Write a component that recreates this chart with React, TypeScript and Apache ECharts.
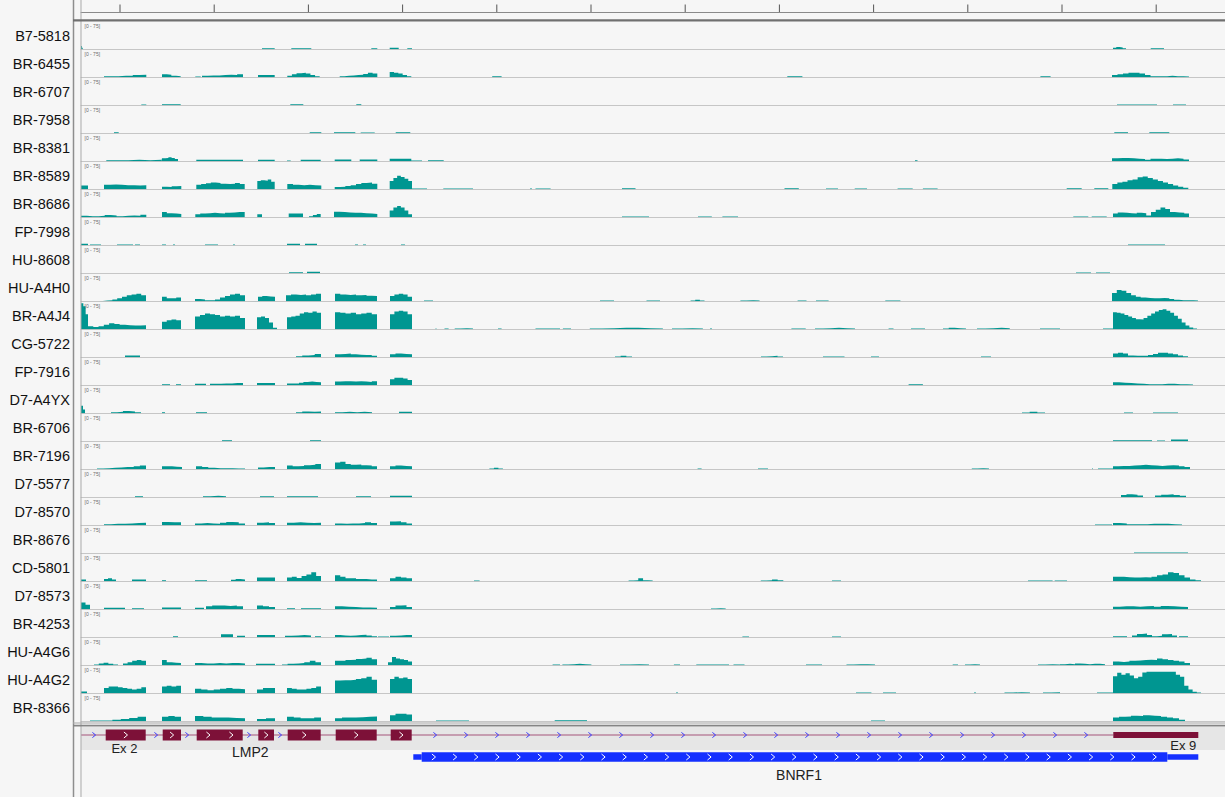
import React, { useEffect, useRef } from 'react';
import * as echarts from 'echarts';

// ---------------- data ----------------
const sampleNames = ['B7-5818','BR-6455','BR-6707','BR-7958','BR-8381','BR-8589','BR-8686','FP-7998','HU-8608','HU-A4H0','BR-A4J4','CG-5722','FP-7916','D7-A4YX','BR-6706','BR-7196','D7-5577','D7-8570','BR-8676','CD-5801','D7-8573','BR-4253','HU-A4G6','HU-A4G2','BR-8366'];
const rangeLabel = '[0 - 75]';
const dataMax = 75;
const regionStart = 810;
const regionEnd = 12250;
const rulerTicks = [1200, 2142, 3084, 4026, 4968, 5910, 6852, 7794, 8736, 9678, 10620, 11562];

// coverage segments: [start, end, depth values spread evenly over the segment...]
const covB7_5818 = [[810,827,9,4],[2620,2747,3],[2913,3113,3],[3713,3773,3],[3897,3987,4],[4073,4120,3],[11130,11260,4,6,5,3],[11507,11640,3]];
const covBR_6455 = [[1040,1260,3,3,4],[1260,1463,4,6,7],[1620,1807,8,7,4,3],[1953,2007,2],[2020,2430,4,5,5,6,7,6,8],[2580,2747,6],[2873,3197,4,8,11,12,10,6,3],[3397,3773,3,4,5,6,7,9,12,10],[3897,4113,14,12,10,6,3],[4922,5016,3],[7873,8024,3],[10404,10506,3],[11120,11890,6,8,10,12,12,10,6,3,3,3,4,3,3,2]];
const covBR_6707 = [[1413,1463,2],[1620,1807,3],[2903,3033,3],[3563,3613,3],[11170,11570,2],[11730,11860,2]];
const covBR_7958 = [[1140,1187,3],[3097,3213,3],[3340,3553,3],[3607,3747,2],[3957,4103,3],[11143,11280,3],[11493,11693,3]];
const covBR_8381 = [[1063,1613,3,3,4,3,4],[1620,1780,8,9,11,9,6],[1963,2430,4],[2580,2747,4],[2870,2907,2],[3007,3207,4],[3347,3513,5],[3597,3773,5],[3897,4113,7],[4113,4220,2],[4280,4437,3],[9150,9175,3],[11120,11890,8,9,9,8,7,6,4,7,7,6,7,8,7,5]];
const covBR_8589 = [[810,880,10],[1040,1463,12,13,12,11,11,10,11],[1620,1813,7,6,8,9],[1963,2447,12,14,16,18,17,15,14,15,17,14],[2447,2573,1],[2573,2747,22,24,23,26,20],[2747,2863,1],[2873,3213,14,12,11,12,11,10],[3347,3773,6,7,9,11,14,17,18,15],[3897,4120,22,30,36,33,28,22],[4120,4270,2],[4433,4730,2],[5300,5320,2],[5355,5506,2],[6220,6355,3],[7845,7988,3],[8260,8380,2],[8547,8670,2],[8976,9127,2],[9229,9376,2],[10667,10817,3],[10943,11083,3],[11123,11883,14,18,20,24,26,32,34,30,26,22,18,14,10,7,4]];
const covBR_8686 = [[810,1463,4,3,3,4,6,5,3,4,5,4,7],[1620,1813,14,11,10,9],[1953,2447,8,10,11,12,11,10,12,13,14,14],[2573,2620,8],[2887,3030,10],[3090,3207,3,6,9],[3340,3773,15,14,13,12,12,11,10,9],[3897,4120,18,26,30,26,18,8],[6220,6490,2],[6980,7118,2],[7224,7380,2],[10733,10883,2],[10917,11067,2],[11130,11890,10,13,12,11,10,12,11,5,14,20,26,22,14,13,12,10]];
const covFP_7998 = [[810,880,4],[900,1010,2],[1170,1330,2],[1350,1400,2],[1620,1660,2],[1730,1750,2],[2050,2180,2],[2330,2350,2],[2870,3000,4],[3050,3170,4],[3550,3580,2],[3630,3660,2],[4010,4050,2],[11280,11650,2]];
const covHU_8608 = [[2890,3030,3],[3070,3200,4],[10760,10910,2],[10960,11100,2]];
const covHU_A4H0 = [[980,1460,1,2,3,5,8,12,16,18,20,16],[1620,1810,12,8,8,10],[1950,2450,6,5,3,3,5,10,14,18,20,16],[2470,2580,1],[2580,2750,12,14,13,12],[2860,3210,16,18,17,18,16,18,20],[3350,3770,20,18,17,18,16,17,15,14],[3900,4120,14,18,20,18,12],[4240,4330,2],[6000,6140,2],[6465,6600,2],[6906,7045,2,4,2],[7404,7596,2,3,2],[7976,8065,2],[8160,8286,2],[8853,9004,2],[11120,11980,22,30,28,22,16,12,10,9,8,8,9,8,6,4,3,3,3,2]];
const covBR_A4J4 = [[810,880,70,62,40],[880,1460,8,6,8,12,16,14,12,11,10,10,11],[1620,1810,20,24,26,24],[1950,2450,34,38,42,40,38,34,36,34,36,30],[2570,2770,32,34,30,18,4],[2870,3210,32,34,36,42,46,44,48,44],[3350,3770,46,44,42,44,40,42,44,40],[3900,4120,40,48,50,48,40],[4355,4365,2],[4445,4486,2],[4547,4730,2,3,2],[4980,5016,2],[5355,5600,2],[5629,5710,2],[5898,6629,2,3,4,4,3,2],[6720,7029,2,3,2],[7100,7120,2],[7914,8057,2],[8150,8550,2,3,4,3,2],[8886,8935,2],[9110,9250,2],[9430,9660,2,4,3,2],[9770,10098,2,3,4,3],[10400,10600,2],[11030,11130,2],[11130,11970,46,44,42,38,34,30,27,26,30,36,42,48,52,54,50,44,36,28,18,10,5,2]];
const covCG_5722 = [[1250,1400,5],[2960,3210,3,5,6,9],[3350,3770,8,9,10,8,7,6,6,4],[3900,4120,8,10,9,8],[6150,6320,2,4,2],[7610,7830,2,3,4,2],[8230,8445,2],[8710,8790,2],[9810,9910,2],[11130,11880,10,12,10,5,4,4,4,6,9,12,12,10,8,5,3]];
const covFP_7916 = [[1620,1700,3],[1760,1810,3],[1950,2060,4],[2100,2430,4,4,5,5,6,6],[2570,2750,6],[2870,2990,5],[2990,3210,7,9,10,9,8],[3350,3770,10,11,11,10,11,10,9,11],[3900,4120,16,20,20,18,14],[9086,9229,3],[11130,11930,8,7,6,5,4,3,3,3,4,4,3,3,2]];
const covD7_A4YX = [[810,850,20,10],[1110,1410,3,4,6,5,3],[1620,1650,3],[1960,2070,3],[2960,3210,3,5,4,5],[3350,3720,3,4,3,4,3],[3990,4120,4],[10220,10450,2,4,2],[11240,11330,2],[11530,11780,2]];
const covBR_6706 = [[2220,2320,3],[3100,3210,3],[11130,11520,3],[11570,11650,2],[11710,11880,5]];
const covBR_7196 = [[970,1460,2,3,4,5,6,6,8,10],[1620,1820,8,8,7,6],[1960,2450,8,6,4,3,3,3,2,2],[2580,2750,5,6,6],[2870,3210,10,8,9,11,12,14],[3350,3770,18,20,14,12,13,11,10,8],[3900,4120,8,10,9,8],[4894,5029,2,4,2],[6976,7016,2],[7580,7680,2],[9718,9890,2,3,2],[10920,10930,2],[10980,11130,2],[11130,11900,8,9,9,10,11,12,11,10,9,10,11,10,8,6]];
const covD7_5577 = [[1350,1430,3],[2030,2260,3,4,3],[2600,2740,3],[2870,3180,3],[3560,3710,3],[3900,4120,4],[11210,11430,6,8,7,5],[11550,11860,5,7,8,6,4]];
const covD7_8570 = [[1040,1460,3,4,4,5,6,7],[1620,1810,9,8,8],[1950,2450,5,6,5,4,7,9,8,5],[2570,2750,7,8,6],[2870,3210,7,8,7,6,7],[3350,3770,5,4,5,5,6,8,6],[3900,4120,10,11,8,5],[10950,11120,2],[11130,11820,6,5,3,3,3,4,4,4,3,2]];
const covBR_8676 = [[11340,11880,2]];
const covCD_5801 = [[810,860,5],[1040,1160,6,8,5],[1320,1460,5],[1620,1660,3],[1950,2070,3],[2310,2450,4,6,5],[2570,2750,10],[2870,3210,10,12,9,14,18,24,14],[3350,3770,16,12,8,8,6,6,5,5],[3900,4120,8,12,10,8],[4740,4796,2],[6286,6527,2,3,8,3,2],[7608,7833,2,3,5,3],[8320,8410,2],[10280,10526,2],[10547,10670,2],[11130,12010,12,12,11,10,10,11,10,12,16,18,24,22,16,10,5,3]];
const covD7_8573 = [[810,900,18,12],[1040,1250,4],[1320,1440,3],[1620,1810,5],[1950,2040,4],[2060,2430,8,10,10,9,10,8],[2570,2750,10,8,6],[2870,2950,3],[3010,3210,3],[3350,3770,8,7,6,5,5,4],[3900,4120,6,10,11,6],[7110,7257,2,3,2],[11130,11880,7,8,8,7,8,9,7,9,8,7,6]];
const covBR_4253 = [[1730,1780,3],[2210,2330,8],[2370,2450,4],[2570,2750,6],[2850,3110,4,5,6,5],[3150,3210,3],[3350,3770,6,5,4,5,6,7,5,3],[3780,3890,2],[3900,4120,4,5,6,6],[7424,7490,2],[8320,8410,2],[11130,11270,3],[11320,11770,5,9,10,6,3,4,8,9,5],[11790,11880,3]];
const covHU_A4G6 = [[940,1180,2,5,7,4,2],[1230,1460,5,8,12,14,12],[1620,1810,14,8,7,6],[1950,2450,6,5,5,6,5,6,6,5],[2560,2750,4],[2820,3210,2,4,5,6,8,12,8],[3350,3770,12,12,14,15,17,18,20,16],[3880,4120,8,22,18,16,14,10],[5526,5600,2],[5624,5914,2,3,4,3,2],[6200,6490,2,3,2],[6739,6800,2],[6963,7290,2],[7335,7445,2],[8060,8220,2],[8465,8750,2,3,3,2],[9527,9580,2],[9650,9800,2,3,2],[10380,10600,2,3,2],[10600,11050,3,4,3,5,4,3,4,4,3],[11130,11900,10,9,10,12,13,14,15,14,18,16,14,12,10,6]];
const covHU_A4G2 = [[810,870,5],[1040,1460,14,18,18,16,14,12,10,12,16],[1620,1810,18,20,18,20],[1950,2450,12,10,8,10,12,14,12,11],[2570,2750,10,14,14],[2870,3210,14,12,10,10,12,14,18],[3350,3770,34,35,35,36,38,40,44,36],[3900,4120,38,44,40,42,38],[6760,6780,2],[8560,8714,2],[8830,8960,2],[9740,9760,2],[10045,10300,2,3,2],[10430,10600,2,3],[10970,11130,2],[11130,12010,46,55,50,54,48,40,44,56,58,58,58,58,58,58,58,50,44,20,10,4,2]];
const covBR_8366 = [[900,1040,2],[1040,1460,2,4,6,9,12],[1620,1810,12,14,12],[1950,2450,14,12,10,10,9,8],[2570,2750,6,8],[2870,3210,12,10,8,8,10],[3350,3770,8,10,10,11,12,13],[3900,4120,16,20,20,18],[4360,4690,2],[5547,5870,3],[8710,8850,2],[11130,11850,10,12,13,15,14,16,15,14,12,10,8,4]];

const coverage = [covB7_5818, covBR_6455, covBR_6707, covBR_7958, covBR_8381, covBR_8589, covBR_8686, covFP_7998, covHU_8608, covHU_A4H0, covBR_A4J4, covCG_5722, covFP_7916, covD7_A4YX, covBR_6706, covBR_7196, covD7_5577, covD7_8570, covBR_8676, covCD_5801, covD7_8573, covBR_4253, covHU_A4G6, covHU_A4G2, covBR_8366];

// gene features: [start, end, gene index, kind (0 = intron line, 1 = UTR, 2 = CDS)]
const geneNames = ['LMP2', 'BNRF1'];
const geneParts = [
  [810, 11133, 0, 0],
  [1057, 1457, 0, 2],
  [1627, 1810, 0, 2],
  [1967, 2427, 0, 2],
  [2583, 2740, 0, 2],
  [2877, 3207, 0, 2],
  [3357, 3767, 0, 2],
  [3907, 4117, 0, 2],
  [11133, 11983, 0, 1],
  [4133, 4217, 1, 1],
  [4217, 11673, 1, 2],
  [11673, 11983, 1, 1],
];
const featureLabels = ['Ex 2', 'LMP2', 'Ex 9', 'BNRF1'];
const featureLabelPos = [1244, 2503, 11833, 7990];

// ---------------- styles ----------------
const TEAL = '#009691';
const GENE_COLORS = ['#7d1138', '#1530ff'];
const BG = '#f6f6f6';
const FONT = '"Liberation Sans", Arial, Helvetica, sans-serif';
const TRACK_TOP = 21.3;
const TRACK_H = 28;
const DATA_LEFT = 81;
const GENE_TOP = 727;
const geneRowOffset = [8, 30];
const labelStyle = [
  { dy: 21.5, size: 13 },
  { dy: 24.7, size: 14 },
  { dy: 18, size: 13 },
  { dy: 48, size: 14 },
];

function toProfile(segs: number[][]) {
  const sorted = segs.slice().sort((a, b) => a[0] - b[0]);
  const pts: number[][] = [[regionStart, 0]];
  for (const seg of sorted) {
    const [s, e, ...vals] = seg;
    const w = (e - s) / vals.length;
    pts.push([s, 0]);
    vals.forEach((v, k) => {
      pts.push([s + k * w, v]);
      pts.push([s + (k + 1) * w, v]);
    });
    pts.push([e, 0]);
  }
  pts.push([regionEnd, 0]);
  return pts;
}

function chevron(x: number, cy: number, color: string, hw: number, hh: number) {
  return {
    type: 'polyline',
    shape: { points: [[x - hw, cy - hh], [x + hw, cy], [x - hw, cy + hh]] },
    style: { stroke: color, fill: null, lineWidth: 1 },
  };
}

function buildOption() {
  const grid: any[] = [];
  const xAxis: any[] = [];
  const yAxis: any[] = [];
  const series: any[] = [];
  const graphic: any[] = [];

  coverage.forEach((segs, i) => {
    const top = TRACK_TOP + TRACK_H * i;
    grid.push({ left: DATA_LEFT, right: 0, top, height: TRACK_H });
    xAxis.push({
      gridIndex: i, type: 'value', min: regionStart, max: regionEnd,
      axisLine: { show: true, onZero: false, lineStyle: { color: '#c6c6c6', width: 1 } },
      axisTick: { show: false }, axisLabel: { show: false }, splitLine: { show: false },
    });
    yAxis.push({ gridIndex: i, type: 'value', min: 0, max: dataMax, show: false });
    series.push({
      type: 'line', xAxisIndex: i, yAxisIndex: i, data: toProfile(segs),
      symbol: 'none', showSymbol: false, lineStyle: { width: 0 },
      areaStyle: { color: TEAL, opacity: 1 }, silent: true, z: 3,
    });
    graphic.push({
      type: 'text', x: 70, y: top + 14.6, z: 10,
      style: {
        text: sampleNames[i], fill: '#111', font: `14.5px ${FONT}`,
        align: 'right', verticalAlign: 'middle', textAlign: 'right', textVerticalAlign: 'middle',
      },
    });
    graphic.push({
      type: 'text', x: 84.5, y: top + 4.6, z: 10,
      style: {
        text: rangeLabel, fill: '#6a6a6a', font: `5px ${FONT}`,
        align: 'left', verticalAlign: 'middle', textAlign: 'left', textVerticalAlign: 'middle',
      },
    });
  });

  // ruler
  const rIdx = coverage.length;
  grid.push({ left: DATA_LEFT, right: 0, top: 0, height: 12 });
  xAxis.push({
    gridIndex: rIdx, type: 'value', min: regionStart, max: regionEnd,
    axisLine: { show: true, onZero: false, lineStyle: { color: '#8a8a8a', width: 1 } },
    axisTick: { show: false }, axisLabel: { show: false }, splitLine: { show: false },
  });
  yAxis.push({ gridIndex: rIdx, type: 'value', min: 0, max: 1, show: false });
  series.push({
    type: 'custom', xAxisIndex: rIdx, yAxisIndex: rIdx, silent: true, clip: false,
    data: rulerTicks.map((t) => [t, 0]),
    renderItem: (params: any, api: any) => {
      const p = api.coord([api.value(0), 0]);
      return {
        type: 'line',
        shape: { x1: p[0], y1: p[1], x2: p[0], y2: p[1] - 7.5 },
        style: { stroke: '#555', lineWidth: 1 },
      };
    },
  });

  // gene track
  const gIdx = coverage.length + 1;
  grid.push({ left: DATA_LEFT, right: 0, top: GENE_TOP, height: 797 - GENE_TOP });
  xAxis.push({ gridIndex: gIdx, type: 'value', min: regionStart, max: regionEnd, show: false });
  yAxis.push({ gridIndex: gIdx, type: 'value', min: 0, max: 1, show: false });
  series.push({
    type: 'custom', xAxisIndex: gIdx, yAxisIndex: gIdx, silent: true, clip: false, z: 5,
    data: geneParts,
    renderItem: (params: any, api: any) => {
      const s = api.value(0), e = api.value(1), g = api.value(2), kind = api.value(3);
      const x1 = api.coord([s, 0])[0];
      const x2 = api.coord([e, 0])[0];
      const cy = params.coordSys.y + geneRowOffset[g];
      const color = GENE_COLORS[g];
      const children: any[] = [];
      if (kind === 0) {
        children.push({ type: 'line', shape: { x1, y1: cy, x2, y2: cy }, style: { stroke: '#a5557a', lineWidth: 1 } });
        for (let x = x1 + 13; x < x2 - 4; x += 31) children.push(chevron(x, cy, '#3d3dff', 1.6, 2.6));
      } else if (kind === 1) {
        const h = g === 0 ? 6 : 5.5;
        children.push({ type: 'rect', shape: { x: x1, y: cy - h / 2, width: x2 - x1, height: h }, style: { fill: color } });
      } else {
        const h = g === 0 ? 11 : 9.5;
        children.push({ type: 'rect', shape: { x: x1, y: cy - h / 2, width: x2 - x1, height: h }, style: { fill: color } });
        const w = x2 - x1;
        if (g === 0) {
          const n = Math.max(1, Math.floor(w / 22));
          for (let k = 0; k < n; k++) children.push(chevron(x1 + (w * (k + 0.5)) / n, cy, '#ffffff', 1.8, 3));
        } else {
          for (let x = x1 + 12; x < x2 - 4; x += 21.2) children.push(chevron(x, cy, '#ffffff', 1.8, 3));
        }
      }
      return { type: 'group', children };
    },
  });
  series.push({
    type: 'custom', xAxisIndex: gIdx, yAxisIndex: gIdx, silent: true, clip: false, z: 6,
    data: featureLabels.map((t, i) => [featureLabelPos[i], i]),
    renderItem: (params: any, api: any) => {
      const i = api.value(1);
      const x = api.coord([api.value(0), 0])[0];
      const st = labelStyle[i];
      return {
        type: 'text', x, y: params.coordSys.y + st.dy,
        style: {
          text: featureLabels[i], fill: '#222', font: `${st.size}px ${FONT}`,
          align: 'center', verticalAlign: 'middle', textAlign: 'center', textVerticalAlign: 'middle',
        },
      };
    },
  });

  // frame lines and gene band
  graphic.push({ type: 'rect', z: 0, shape: { x: DATA_LEFT, y: 727, width: 1225 - DATA_LEFT, height: 23 }, style: { fill: '#e6e6e6' } });
  graphic.push({ type: 'line', z: 20, shape: { x1: 73.5, y1: 0, x2: 73.5, y2: 797 }, style: { stroke: '#8e8e8e', lineWidth: 1.5 } });
  graphic.push({ type: 'line', z: 20, shape: { x1: 81, y1: 0, x2: 81, y2: 797 }, style: { stroke: '#a9a9a9', lineWidth: 1 } });
  graphic.push({ type: 'line', z: 20, shape: { x1: 73, y1: 20.4, x2: 1225, y2: 20.4 }, style: { stroke: '#707070', lineWidth: 2.4 } });
  graphic.push({ type: 'line', z: 20, shape: { x1: 73, y1: 723, x2: 1225, y2: 723 }, style: { stroke: '#a8a8a8', lineWidth: 1 } });
  graphic.push({ type: 'line', z: 20, shape: { x1: 73, y1: 725.6, x2: 1225, y2: 725.6 }, style: { stroke: '#858585', lineWidth: 1.6 } });

  return {
    animation: false,
    backgroundColor: BG,
    grid, xAxis, yAxis, series, graphic,
  };
}

export default function App() {
  const ref = useRef<HTMLDivElement>(null);
  useEffect(() => {
    if (!ref.current) return;
    const chart = echarts.init(ref.current, undefined, { renderer: 'svg' });
    chart.setOption(buildOption() as any);
    return () => chart.dispose();
  }, []);
  return (
    <div
      ref={ref}
      style={{ position: 'fixed', left: 0, top: 0, width: 1225, height: 797, background: BG }}
    />
  );
}
